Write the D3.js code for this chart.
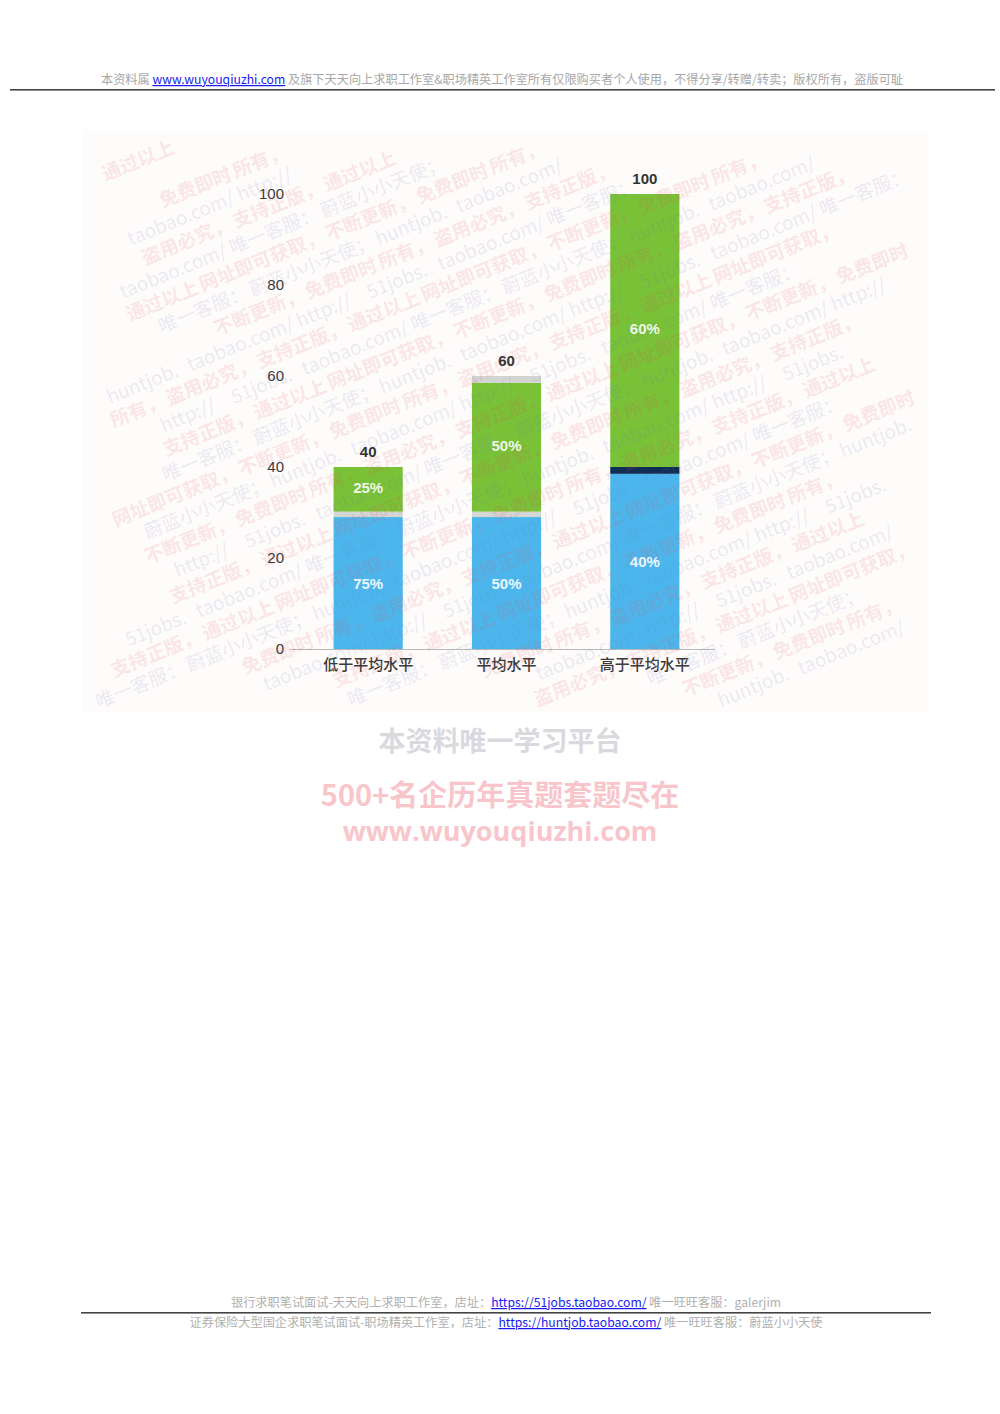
<!DOCTYPE html>
<html><head><meta charset="utf-8">
<script src="https://cdn.jsdelivr.net/npm/d3@7"></script>
<style>
html,body{margin:0;padding:0;background:#fff;}
svg{display:block;}
</style></head>
<body>
<svg id="c" width="1000" height="1414"></svg>
<script>
const categories = ["低于平均水平", "平均水平", "高于平均水平"];
const baseValues = [29, 29, 38.5];       // blue segment
const dividerValues = [1.2, 1.2, 1.5];   // thin band between blue and green
const upperValues = [9.8, 28.3, 60];     // green segment
const capValues = [0, 1.5, 0];           // thin grey cap
const totals = [40, 60, 100];
const basePct = ["75%", "50%", "40%"];
const upperPct = ["25%", "50%", "60%"];
const yTicks = [0, 20, 40, 60, 80, 100];

const dividerColors = ["#d3d6d2", "#d3d6d2", "#0f2d55"];
const BLUE = "#4cb6ec", GREEN = "#79c137", CAP = "#d2d4d2";

const svg = d3.select("#c");
const CJK = "'Noto Sans CJK SC','Noto Sans',sans-serif";

// ---------- header ----------
const hdr = svg.append("text").attr("x", 502).attr("y", 84).attr("text-anchor", "middle")
  .attr("font-family", CJK).attr("font-size", 12.2).attr("fill", "#a8a8a8");
hdr.append("tspan").text("本资料属 ");
hdr.append("tspan").text("www.wuyouqiuzhi.com").attr("fill", "#1a1aee").attr("text-decoration", "underline");
hdr.append("tspan").text(" 及旗下天天向上求职工作室&职场精英工作室所有仅限购买者个人使用，不得分享/转赠/转卖；版权所有，盗版可耻");
svg.append("rect").attr("x", 10).attr("y", 89).attr("width", 985).attr("height", 1.6).attr("fill", "#444");

// ---------- chart image background ----------
const img = {x: 83, y: 130, w: 845, h: 583};
svg.append("rect").attr("x", img.x).attr("y", img.y).attr("width", img.w).attr("height", img.h).attr("fill", "#fefbfb");

// ---------- chart ----------
const x = d3.scaleBand().domain(categories).range([299, 714]).paddingInner(0.5).paddingOuter(0.25);
const y = d3.scaleLinear().domain([0, 100]).range([649, 194]);

svg.append("line").attr("x1", 290).attr("x2", 715).attr("y1", y(0) + 0.5).attr("y2", y(0) + 0.5)
  .attr("stroke", "#b8b8b8").attr("stroke-width", 1);

const rows = categories.map((c, i) => ({
  cat: c, segs: [
    {v: baseValues[i], color: BLUE},
    {v: dividerValues[i], color: dividerColors[i]},
    {v: upperValues[i], color: GREEN},
    {v: capValues[i], color: CAP}
  ]
}));
rows.forEach(r => {
  let acc = 0;
  r.segs.forEach(s => {
    if (s.v > 0) {
      svg.append("rect").attr("x", x(r.cat)).attr("width", x.bandwidth())
        .attr("y", y(acc + s.v)).attr("height", y(acc) - y(acc + s.v)).attr("fill", s.color);
    }
    s.y0 = acc; s.y1 = acc + s.v;
    acc += s.v;
  });
});

// ---------- faint diagonal watermark (over the picture) ----------
const wm = svg.append("g");
const pinkPhrases = ["所有，", "盗用必究，", "支持正版，", "通过以上", "网址即可获取，", "不断更新，", "免费即时"];
const bluePhrases = ["http://", "51jobs.", "taobao.com/", "唯一客服：", "蔚蓝小小天使；", "huntjob.", "taobao.com/"];
const ang = -22, rad = ang * Math.PI / 180, fs = 19;
const cosA = Math.cos(rad), sinA = Math.sin(rad);
function inside(px, py) { return px > img.x + 2 && px < img.x + img.w - 2 && py > img.y + 2 && py < img.y + img.h - 2; }
function placeLine(c, phase, phrases, color, weight, op, k0) {
  let d = -phase, k = k0;
  while (d < 1150) {
    const t = phrases[k % phrases.length]; k++;
    const L = t.length * fs * (/[a-z]/.test(t) ? 0.55 : 1);
    const sx = img.x + d * cosA, sy = c + d * sinA;
    const ex = sx + L * cosA, ey = sy + L * sinA;
    const ux = sinA * fs, uy = -cosA * fs;
    if (inside(sx, sy) && inside(ex, ey) && inside(sx + ux, sy + uy) && inside(ex + ux, ey + uy)) {
      wm.append("text").attr("transform", `translate(${sx.toFixed(1)},${sy.toFixed(1)}) rotate(${ang})`)
        .attr("font-family", CJK).attr("font-size", fs).attr("font-weight", weight)
        .attr("fill", color).attr("fill-opacity", op).text(t);
    }
    d += L + 3;
  }
}
const vstep = 25;
for (let i = 0; i < 38; i++) {
  const c = img.y + 10 + i * vstep;
  const phase = (i * 37) % 150;
  if (i % 2 === 0) placeLine(c, phase, pinkPhrases, "#e0505c", "bold", 0.15, i % 7);
  else placeLine(c, phase, bluePhrases, "#6a78b8", "normal", 0.15, i % 7);
}

// ---------- axes and labels ----------
const yAxis = d3.axisLeft(y).tickValues(yTicks).tickSize(0).tickPadding(0).tickFormat(d3.format("d"));
const ya = svg.append("g").attr("transform", "translate(284,0)").call(yAxis);
ya.select(".domain").remove();
ya.selectAll("text").attr("font-family", "'Liberation Sans',Arial,sans-serif").attr("font-size", 15)
  .attr("fill", "#3a3a3a");

const xAxis = d3.axisBottom(x).tickSize(0).tickPadding(0);
const xa = svg.append("g").attr("transform", `translate(0,${y(0) + 10})`).call(xAxis);
xa.select(".domain").remove();
xa.selectAll("text").attr("font-family", CJK).attr("font-size", 15).attr("font-weight", 500).attr("fill", "#3a3a3a");

rows.forEach((r, i) => {
  const cx = x(r.cat) + x.bandwidth() / 2;
  const lbl = (v, yy, col) => svg.append("text").attr("x", cx).attr("y", yy).attr("text-anchor", "middle")
    .attr("dominant-baseline", "middle").attr("font-family", "'Liberation Sans',Arial,sans-serif")
    .attr("font-weight", "bold").attr("font-size", 15).attr("fill", col).text(v);
  lbl(basePct[i], y((r.segs[0].y0 + r.segs[0].y1) / 2) + 2, "#eaf6fd");
  lbl(upperPct[i], y((r.segs[2].y0 + r.segs[2].y1) / 2), "#eef7e6");
  lbl(totals[i], y(totals[i]) - 14, "#333");
});

// ---------- promo text ----------
svg.append("text").attr("x", 500).attr("y", 751).attr("text-anchor", "middle").attr("font-family", CJK)
  .attr("font-weight", "bold").attr("font-size", 27).attr("fill", "#d9d9de").text("本资料唯一学习平台");
svg.append("text").attr("x", 500).attr("y", 806).attr("text-anchor", "middle").attr("font-family", CJK)
  .attr("font-weight", "bold").attr("font-size", 29).attr("fill", "#f8c6ca").text("500+名企历年真题套题尽在");
svg.append("text").attr("x", 500).attr("y", 841).attr("text-anchor", "middle").attr("font-family", "'Open Sans','Noto Sans',sans-serif")
  .attr("font-weight", "bold").attr("font-size", 27).attr("fill", "#f8c6ca").text("www.wuyouqiuzhi.com");

// ---------- footer ----------
const f1 = svg.append("text").attr("x", 506).attr("y", 1307).attr("text-anchor", "middle")
  .attr("font-family", CJK).attr("font-size", 12.2).attr("fill", "#b0b0b0");
f1.append("tspan").text("银行求职笔试面试-天天向上求职工作室，店址：");
f1.append("tspan").text("https://51jobs.taobao.com/").attr("fill", "#1a1aee").attr("text-decoration", "underline");
f1.append("tspan").text(" 唯一旺旺客服：galerjim");
svg.append("rect").attr("x", 81).attr("y", 1312).attr("width", 850).attr("height", 1.6).attr("fill", "#444");
const f2 = svg.append("text").attr("x", 506).attr("y", 1327).attr("text-anchor", "middle")
  .attr("font-family", CJK).attr("font-size", 12.2).attr("fill", "#b0b0b0");
f2.append("tspan").text("证券保险大型国企求职笔试面试-职场精英工作室，店址：");
f2.append("tspan").text("https://huntjob.taobao.com/").attr("fill", "#1a1aee").attr("text-decoration", "underline");
f2.append("tspan").text(" 唯一旺旺客服：蔚蓝小小天使");
</script>
</body></html>
